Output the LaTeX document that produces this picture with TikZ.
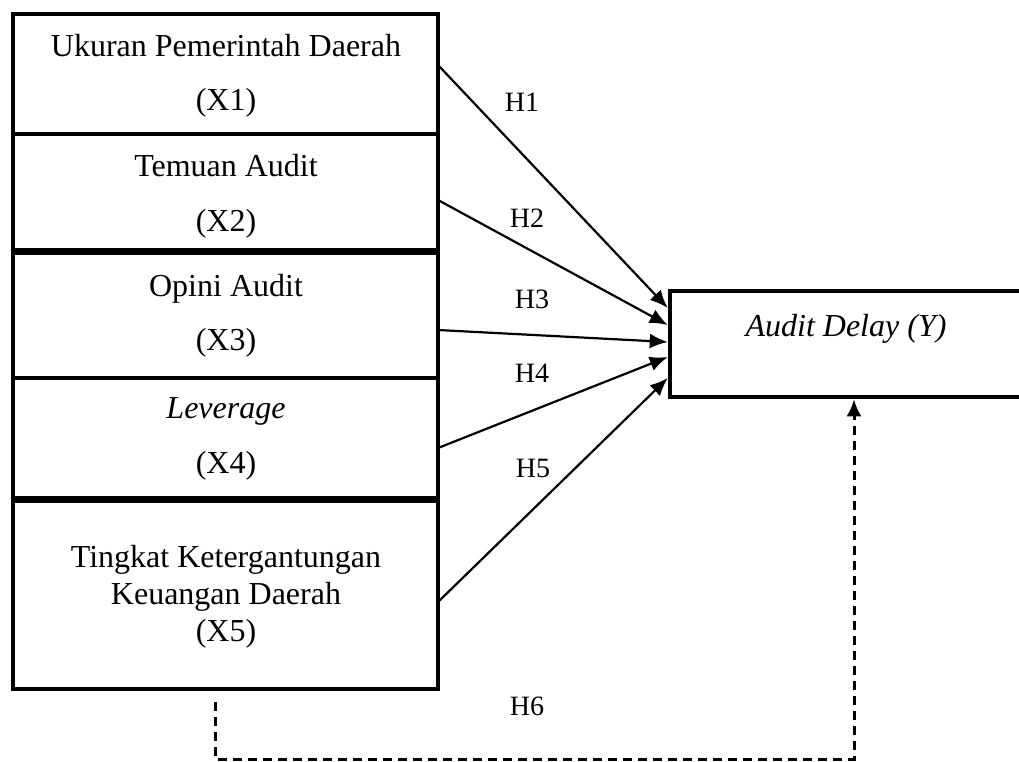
\documentclass[tikz,border=0pt]{standalone}
\usepackage{fontspec}
\setmainfont{Liberation Serif}
\usetikzlibrary{arrows.meta}
\begin{document}
\begin{tikzpicture}[x=1pt,y=-1pt,
  box/.style={draw, line width=4.5pt, minimum width=425pt, inner sep=0pt, outer sep=0pt},
  lbl/.style={font=\fontsize{32}{38}\selectfont, anchor=base, inner sep=0pt},
  hl/.style={font=\fontsize{28}{33}\selectfont, anchor=base, inner sep=0pt},
  arr/.style={line width=2.2pt, -{Latex[length=18pt,width=15pt]}},
  dsh/.style={line width=3pt, dash pattern=on 9pt off 6pt, -{Latex[length=17pt,width=15pt]}}]
\path[use as bounding box] (0,0) rectangle (1019,762);
\clip (0,0) rectangle (1019,762);
% boxes
\node[box, minimum height=120pt] (b1) at (225.5,74) {};
\node[box, minimum height=116pt] (b2) at (225.5,192) {};
\node[box, minimum height=125pt] (b3) at (225.5,315.5) {};
\node[box, minimum height=120pt] (b4) at (225.5,438) {};
\node[box, minimum height=188pt] (b5) at (225.5,595) {};
\node[draw, line width=4.5pt, minimum width=360pt, minimum height=106pt, inner sep=0pt, outer sep=2.25pt] (yb) at (850,344) {};
% texts
\node[lbl] (t1a) at (226,57) {Ukuran Pemerintah Daerah};
\node[lbl] (t1b) at (226,111) {(X1)};
\node[lbl] (t2a) at (226,177) {Temuan Audit};
\node[lbl] (t2b) at (226,231) {(X2)};
\node[lbl] (t3a) at (226,296.5) {Opini Audit};
\node[lbl] (t3b) at (226,350) {(X3)};
\node[lbl] (t4a) at (226,418) {\itshape Leverage};
\node[lbl] (t4b) at (226,473) {(X4)};
\node[lbl] (t5a) at (226,567) {Tingkat Ketergantungan};
\node[lbl] (t5b) at (226,604) {Keuangan Daerah};
\node[lbl] (t5c) at (226,641) {(X5)};
\node[lbl] (ty) at (846,336) {\itshape Audit Delay (Y)};
% hypothesis labels
\node[hl] (h1) at (522,112) {H1};
\node[hl] (h2) at (527,227) {H2};
\node[hl] (h3) at (532,308) {H3};
\node[hl] (h4) at (532,382) {H4};
\node[hl] (h5) at (533,477) {H5};
\node[hl] (h6) at (527,715) {H6};
% arrows
\draw[arr] (b1.east |- 0,65) -- (yb.west |- 0,308);
\draw[arr] (b2.east |- 0,200) -- (yb.west |- 0,325);
\draw[arr] (b3.east |- 0,330) -- (yb.west |- 0,342);
\draw[arr] (b4.east |- 0,448) -- (yb.west |- 0,357);
\draw[arr] (b5.east |- 0,602) -- (yb.west |- 0,378);
% dashed H6
\coordinate (d0) at (215,702);
\coordinate (d1) at (854,759);
\draw[dsh] (d0) |- (d1) -- (d1 |- yb.south);
\end{tikzpicture}
\end{document}
